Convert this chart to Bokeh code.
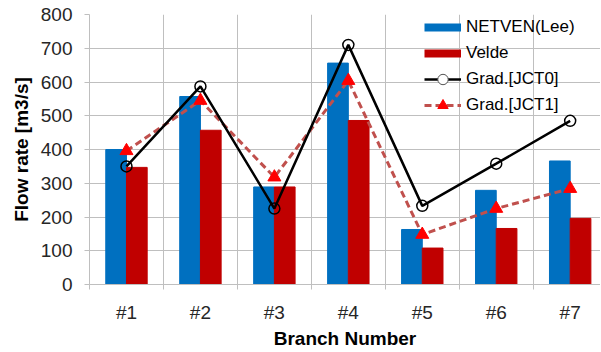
import numpy as np
from bokeh.plotting import figure
from bokeh.models import Range1d, FixedTicker, Legend, LegendItem
from bokeh.embed import file_html
from bokeh.resources import INLINE

categories = ["#1", "#2", "#3", "#4", "#5", "#6", "#7"]
netven = [400, 557, 289, 656, 163, 279, 366]
velde = [347, 457, 289, 486, 108, 166, 196]
jct0 = [350, 587, 225, 710, 233, 358, 485]
jct1 = [396, 545, 318, 604, 148, 225, 284]
y_ticks = [0, 100, 200, 300, 400, 500, 600, 700, 800]

BLUE = "#0070c0"
RED = "#c00000"
GRID = "#bfbfbf"
FONT = "Liberation Sans"

xc = np.arange(len(categories)) + 0.5

p = figure(width=600, height=351, output_backend="svg", toolbar_location=None,
           x_range=Range1d(0, 6.91), y_range=Range1d(0, 800),
           min_border_left=89, min_border_right=0, min_border_top=14, min_border_bottom=67)
p.outline_line_color = None
p.background_fill_color = "white"

bw = 0.28
p.vbar(x=xc - bw / 2, top=netven, width=bw, color=BLUE)
p.vbar(x=xc + bw / 2, top=velde, width=bw, color=RED)

l1 = p.line(xc, jct1, line_color="#c0504d", line_width=3, line_dash="7 4")
t1 = p.scatter(xc, jct1, marker="triangle", size=13, fill_color="#ff0000", line_color="#ff0000")
l0 = p.line(xc, jct0, line_color="black", line_width=2.5)
c0 = p.scatter(xc, jct0, marker="circle", size=11, fill_color=None, line_color="black", line_width=1.5)

# legend-only proxies for bars
lb = p.line([np.nan], [np.nan], line_color=BLUE, line_width=8)
lr = p.line([np.nan], [np.nan], line_color=RED, line_width=8)
c0l = p.scatter([np.nan], [np.nan], marker="circle", fill_color="white", line_color="#555555", line_width=1)
t1l = p.scatter([np.nan], [np.nan], marker="triangle", fill_color="#ff0000", line_color="#ff0000")

legend = Legend(items=[
    LegendItem(label="NETVEN(Lee)", renderers=[lb]),
    LegendItem(label="Velde", renderers=[lr]),
    LegendItem(label="Grad.[JCT0]", renderers=[l0, c0l]),
    LegendItem(label="Grad.[JCT1]", renderers=[l1, t1l]),
], location=(335, 166))
legend.padding = 0
legend.spacing = 0
legend.margin = 0
legend.glyph_width = 37
legend.glyph_height = 26
legend.label_height = 26
legend.label_standoff = 5
legend.label_text_font = FONT
legend.label_text_font_size = "17px"
legend.label_text_color = "black"
legend.border_line_color = None
legend.background_fill_alpha = 0
p.add_layout(legend, "center")

# grids
p.xgrid.ticker = FixedTicker(ticks=list(range(0, 8)))
p.xgrid.grid_line_color = GRID
p.ygrid.grid_line_color = GRID
p.ygrid.ticker = FixedTicker(ticks=y_ticks)

# x axis
p.xaxis.ticker = FixedTicker(ticks=list(xc), minor_ticks=list(range(0, 8)))
p.xaxis.major_label_overrides = {float(x): c for x, c in zip(xc, categories)}
p.xaxis.major_tick_out = 0
p.xaxis.major_tick_in = 0
p.xaxis.minor_tick_out = 5
p.xaxis.minor_tick_in = 0
p.xaxis.minor_tick_line_color = GRID
p.xaxis.axis_line_color = GRID
p.xaxis.major_label_standoff = 12
p.xaxis.major_label_text_font = FONT
p.xaxis.major_label_text_font_size = "19px"
p.xaxis.major_label_text_color = "#262626"
p.xaxis.axis_label = "Branch Number"
p.xaxis.axis_label_text_font = FONT
p.xaxis.axis_label_text_font_size = "19px"
p.xaxis.axis_label_text_font_style = "bold"
p.xaxis.axis_label_text_color = "black"
p.xaxis.axis_label_standoff = 2

# y axis
p.yaxis.ticker = FixedTicker(ticks=y_ticks)
p.yaxis.major_tick_out = 5
p.yaxis.major_tick_in = 0
p.yaxis.minor_tick_line_color = None
p.yaxis.major_tick_line_color = GRID
p.yaxis.axis_line_color = GRID
p.yaxis.major_label_standoff = 12
p.yaxis.major_label_text_font = FONT
p.yaxis.major_label_text_font_size = "19px"
p.yaxis.major_label_text_color = "#262626"
p.yaxis.axis_label = "Flow rate [m3/s]"
p.yaxis.axis_label_text_font = FONT
p.yaxis.axis_label_text_font_size = "19px"
p.yaxis.axis_label_text_font_style = "bold"
p.yaxis.axis_label_text_color = "black"
p.yaxis.axis_label_standoff = 6

open("out.html", "w").write(file_html(p, INLINE))
